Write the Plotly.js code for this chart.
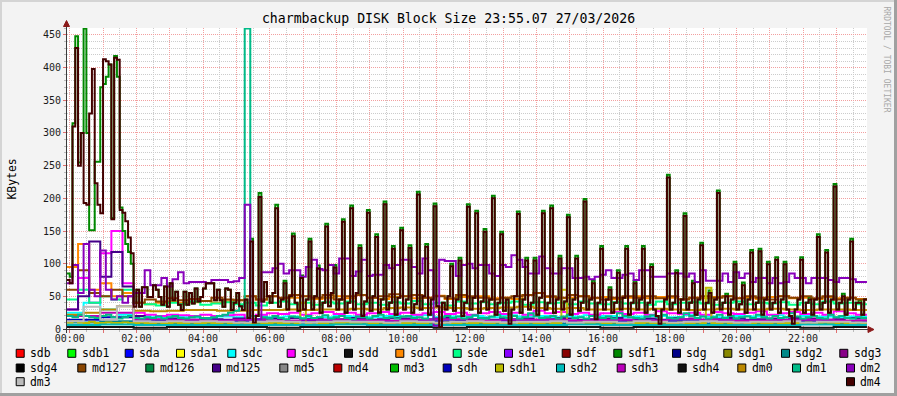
<!DOCTYPE html>
<html><head><meta charset="utf-8">
<script src="https://cdn.plot.ly/plotly-3.0.1.min.js"></script>
<style>html,body{margin:0;padding:0;background:#f3f3f3;}#chart{width:897px;height:396px;}</style>
</head><body><div id="chart"></div>
<script>
// ---------------- DATA ----------------
const seriesNames = ["sdb","sdb1","sda","sda1","sdc","sdc1","sdd","sdd1","sde","sde1","sdf","sdf1","sdg","sdg1","sdg2","sdg3","sdg4","md127","md126","md125","md5","md4","md3","sdh","sdh1","sdh2","sdh3","sdh4","dm0","dm1","dm2","dm3","dm4"];
const seriesColors = ["#FF0000","#00FF00","#0000FF","#FFFF00","#00FFFF","#FF00FF","#111111","#FF8800","#00FF88","#8800FF","#880000","#008800","#000088","#888800","#008888","#880088","#000000","#884400","#008844","#440088","#888888","#BB0000","#00BB00","#0000BB","#BBBB00","#00BBBB","#BB00BB","#111111","#BB8800","#00BB88","#8800BB","#BBBBBB","#440000"];
// sample step (minutes) of each series that is drawn
const stepMinutes = {dm4:5, sdf1:5, dm2:10, dm1:10, sdh1:10, md127:20, sdd1:20, sde:20, sdc1:20, md125:20, dm0:30, sdc:30, dm3:30, sdh2:60, sdg2:60, sdh3:60, sdd:60, sdh:60};

const dm4 = [
75,70,310,430,250,300,193,190,330,398,223,190,177,413,410,405,168,415,412,182,178,165,140,116,
34,60,34,64,64,49,49,67,60,49,37,65,34,70,44,57,37,29,57,37,55,39,62,42,
49,62,70,70,70,44,60,44,34,62,60,29,40,55,35,29,45,17,134,10,20,202,42,72,
50,40,55,185,34,45,70,30,50,142,40,28,78,30,45,134,30,50,93,25,40,157,35,55,
94,30,45,164,25,40,185,30,55,124,20,42,178,28,50,141,25,45,191,30,40,123,22,48,
151,30,45,124,25,38,206,30,50,126,22,45,188,35,3,40,30,50,96,28,45,105,20,40,
187,30,48,177,25,42,149,30,45,200,22,40,145,28,45,8,30,50,176,25,45,105,30,40,
105,22,48,177,30,40,185,25,45,108,30,42,171,22,45,108,28,40,195,30,45,70,15,40,
123,30,45,60,25,40,86,30,48,123,22,40,70,30,45,123,25,40,95,30,20,8,30,45,
232,30,40,86,25,45,173,30,40,70,22,45,128,30,40,55,25,45,208,30,40,50,22,45,
99,30,38,67,25,45,117,30,40,119,22,45,99,30,40,106,25,45,99,30,20,8,30,45,
106,25,40,45,22,45,141,30,40,117,25,45,218,30,40,50,22,45,134,30,40,40,22,45];

const sdf1 = [
85,80,315,448,255,300,460,300,151,151,256,256,370,375,386,405,170,418,386,186,150,130,118,100,
40,60,34,64,64,49,49,67,60,49,37,65,34,70,44,57,37,29,57,37,55,39,62,42,
49,62,70,70,70,44,60,44,34,62,60,29,40,55,35,29,45,17,138,10,20,208,42,72,
50,40,55,190,34,45,74,30,50,146,40,28,82,30,45,138,30,50,97,25,40,161,35,55,
98,30,45,168,25,40,189,30,55,128,20,42,182,28,50,145,25,45,195,30,40,127,22,48,
155,30,45,128,25,38,210,30,50,130,22,45,192,35,3,40,30,50,100,28,45,109,20,40,
191,30,48,181,25,42,153,30,45,204,22,40,149,28,45,8,30,50,180,25,45,109,30,40,
109,22,48,181,30,40,189,25,45,112,30,42,175,22,45,112,28,40,199,30,45,74,15,40,
127,30,45,64,25,40,90,30,48,127,22,40,74,30,45,127,25,40,99,30,20,8,30,45,
236,30,40,90,25,45,177,30,40,74,22,45,132,30,40,59,25,45,212,30,40,54,22,45,
103,30,38,71,25,45,121,30,40,123,22,45,103,30,40,110,25,45,103,30,20,8,30,45,
110,25,40,49,22,45,145,30,40,121,25,45,222,30,40,54,22,45,138,30,40,44,22,45];

const dm2 = [
70,98,55,130,60,50,120,60,45,50,40,50,55,55,90,67,67,78,65,76,87,70,72,72,
72,70,75,75,75,72,73,78,190,12,15,87,87,93,100,85,90,90,80,95,106,92,90,98,
85,108,108,81,88,106,81,83,83,98,93,98,106,106,95,85,108,90,5,106,104,104,81,98,
100,93,98,98,85,81,98,95,113,106,95,85,85,111,93,85,85,93,93,78,78,80,76,80,
83,90,78,78,83,85,75,90,90,80,80,80,85,85,85,80,85,72,90,74,74,74,85,72,
87,78,85,72,78,78,70,78,70,72,85,78,78,70,78,78,78,75,72,78,78,76,72,72];

const dm1 = [
20,18,22,20,18,17,20,22,18,16,18,20,17,16,18,17,19,16,18,20,17,16,18,19,
17,16,18,20,22,25,28,35,460,20,15,18,16,20,17,15,19,18,16,20,17,18,21,16,
18,20,17,15,19,18,16,20,22,17,18,16,19,20,17,18,16,22,5,18,20,17,19,16,
18,21,17,16,19,22,18,17,20,16,18,24,19,17,18,20,16,19,22,17,18,16,20,18,
17,19,16,24,20,18,17,16,19,21,18,22,17,16,18,24,20,17,19,16,18,22,17,20,
16,18,19,17,22,18,16,20,17,18,24,19,16,18,20,17,16,22,18,20,17,16,18,17];

const sdh1 = [
10,12,10,9,11,9,9,10,9,9,10,9,9,10,9,9,10,9,9,10,9,9,10,9,
9,10,9,9,10,9,9,10,9,9,10,9,9,10,9,9,10,9,40,9,10,9,9,10,
9,9,10,9,9,10,9,9,10,9,9,10,9,9,10,9,9,10,9,9,10,9,9,10,
9,9,10,9,9,10,9,9,10,9,9,10,9,9,10,9,9,60,9,9,10,9,9,10,
9,9,10,9,9,10,9,9,10,9,9,10,9,9,10,9,9,10,9,63,9,9,10,9,
9,10,9,9,10,9,9,10,9,9,10,9,9,10,9,9,10,9,9,10,9,9,10,9];

const md127 = [
60,90,55,50,60,50,40,45,42,47,44,46,43,48,45,44,50,45,50,48,52,50,48,52,
45,50,52,48,50,53,50,52,48,50,47,52,50,48,45,48,50,52,55,50,48,52,50,48,
45,48,50,48,50,47,50,45,48,50,48,50,47,50,48,45,50,48,50,47,50,45,48,45];

const sdd1 = [
95,130,60,70,50,55,40,38,40,42,40,41,43,40,42,44,50,45,50,47,48,50,46,48,
50,47,52,48,46,49,50,47,48,51,46,49,48,50,47,48,46,52,55,49,47,48,50,47,
49,46,48,50,47,49,48,46,48,47,49,50,47,48,46,49,50,47,48,46,49,47,48,46];

const sde = [
45,60,40,50,45,60,40,38,36,40,38,42,37,39,41,38,40,36,40,42,38,40,37,41,
39,42,38,40,37,41,39,43,38,40,36,42,39,41,38,40,42,37,41,39,40,38,42,39,
38,41,39,40,37,42,38,40,41,39,37,40,42,38,40,39,41,37,40,38,42,39,40,38];

const sdc1 = [
30,78,40,116,150,70,25,22,20,22,21,20,22,20,21,22,15,22,24,23,25,22,24,26,
23,25,22,24,26,23,25,22,24,26,23,25,22,24,26,23,25,22,28,24,26,23,25,22,
24,26,23,25,22,27,24,23,25,22,26,24,23,25,27,22,24,26,23,25,22,27,24,22];

const md125 = [
30,50,134,80,118,65,20,15,14,16,15,14,16,15,14,16,10,15,16,14,17,15,16,14,
15,17,16,14,15,17,16,14,15,16,17,14,15,16,14,17,15,16,14,15,17,16,14,15,
16,17,14,15,16,14,17,15,16,14,15,17,16,14,15,16,14,17,15,16,14,15,17,16];

const dm0 = [22,25,30,35,28,27,28,29,29,28,28,29,29,30,29,30,30,31,30,32,33,32,33,32,
31,32,33,34,32,31,32,30,30,31,30,31,30,29,30,31,30,30,31,30,29,30,30,29];

const sdc = [25,40,30,22,20,18,19,18,17,19,18,20,18,19,17,18,20,19,18,20,19,21,18,19,
20,18,21,19,20,18,19,21,20,18,19,20,18,21,19,18,20,19,21,18,20,19,18,19];

const dm3 = [12,34,14,35,12,11,12,11,12,11,10,11,12,11,10,11,12,11,11,10,12,11,10,11,
12,11,10,11,11,12,10,11,11,10,12,11,10,11,12,11,10,11,11,12,10,11,11,10];

const sdh2 = [6,7,6,6,6,6,6,6,7,6,6,6,6,6,6,7,6,6,6,6,6,6,7,6];
const sdg2 = [10,12,9,8,8,8,8,9,8,8,8,8,9,8,8,8,8,9,8,8,8,9,8,8];
const sdh3 = [20,25,15,14,13,14,13,14,14,13,14,15,13,14,14,13,14,13,15,14,13,14,14,13];
const sdd  = [3,3,2,3,3,3,2,3,3,3,3,2,3,3,3,3,2,3,3,3,3,3,2,3];
const sdh  = [14,18,12,12,13,12,12,13,12,12,13,12,12,13,12,12,12,13,12,12,13,12,12,12];

const yTickValues = [0,50,100,150,200,250,300,350,400,450];
const xTickLabels = ["00:00","","02:00","","04:00","","06:00","","08:00","","10:00","","12:00","","14:00","","16:00","","18:00","","20:00","","22:00",""];
const titleText = "charmbackup DISK Block Size 23:55.07 27/03/2026";
const yTitle = "KBytes";
const watermark = "RRDTOOL / TOBI OETIKER";

// ---------------- BUILD ----------------
const seriesData = {dm4, sdf1, dm2, dm1, sdh1, md127, sdd1, sde, sdc1, md125, dm0, sdc, dm3, sdh2, sdg2, sdh3, sdd, sdh};
const T0 = Date.UTC(2026, 2, 26, 23, 55, 0);
const RANGE0 = Date.UTC(2026, 2, 26, 23, 55, 7);
const RANGE1 = RANGE0 + 86400000;

const traces = [];
seriesNames.forEach((name, idx) => {
  const vals = seriesData[name];
  if (!vals) return;
  const step = stepMinutes[name] * 60000;
  const x = vals.map((_, i) => T0 + i * step);
  x.push(T0 + vals.length * step);
  const y = vals.concat([vals[vals.length - 1]]);
  traces.push({type:'scatter', mode:'lines', name, x, y,
    line:{color: seriesColors[idx], width: 2, shape:'hv'}, hoverinfo:'skip', showlegend:false});
});

const MONO = 'DejaVu Sans Mono, monospace';
const L = 67, T = 28, W = 800, H = 301;
const PX = p => (p - L) / W;
const PY = p => (T + H - p) / H;

const hourTicks = xTickLabels.map((_, i) => Date.UTC(2026, 2, 27, i, 0, 0));

// legend layout (pixel positions of the boxes)
const legendRows = [
  {cy: 353.3, items: [["sdb",15.7],["sdb1",67.3],["sda",124.7],["sda1",176],["sdc",227.3],["sdc1",286.7],["sdd",344],["sdd1",395.3],["sde",452.7],["sde1",504],["sdf",561.7],["sdf1",613.3],["sdg",672],["sdg1",723.3],["sdg2",781],["sdg3",839.3]]},
  {cy: 368, items: [["sdg4",15.7],["md127",77.3],["md126",145.3],["md125",212],["md5",279.3],["md4",333.3],["md3",390],["sdh",442.7],["sdh1",495],["sdh2",556],["sdh3",616.7],["sdh4",677.7],["dm0",737.3],["dm1",792],["dm2",846]]},
  {cy: 381.7, items: [["dm3",15.7],["dm4",846]]}
];

const shapes = [];
const annotations = [];
legendRows.forEach(row => {
  row.items.forEach(([name, bx]) => {
    const col = seriesColors[seriesNames.indexOf(name)];
    shapes.push({type:'rect', xref:'paper', yref:'paper', layer:'above',
      x0: PX(bx + 0.5), x1: PX(bx + 8.5), y0: PY(row.cy + 4), y1: PY(row.cy - 4),
      fillcolor: col, line:{color:'#000000', width:1}});
    annotations.push({text: name, xref:'paper', yref:'paper', x: PX(bx + 12.2), y: PY(row.cy),
      xanchor:'left', yanchor:'middle', showarrow:false,
      font:{family: MONO, size: 11.4, color:'#000000'}});
  });
});

// frame
shapes.push({type:'rect', xref:'paper', yref:'paper', layer:'above', x0:PX(0), x1:PX(897), y0:PY(2), y1:PY(0), fillcolor:'#D4D4D4', line:{width:0}});
shapes.push({type:'rect', xref:'paper', yref:'paper', layer:'above', x0:PX(0), x1:PX(2), y0:PY(396), y1:PY(0), fillcolor:'#D4D4D4', line:{width:0}});
shapes.push({type:'rect', xref:'paper', yref:'paper', layer:'above', x0:PX(0), x1:PX(897), y0:PY(396), y1:PY(393), fillcolor:'#A0A0A0', line:{width:0}});
shapes.push({type:'rect', xref:'paper', yref:'paper', layer:'above', x0:PX(894), x1:PX(897), y0:PY(396), y1:PY(0), fillcolor:'#A0A0A0', line:{width:0}});

// axes lines + arrows
shapes.push({type:'line', xref:'paper', yref:'paper', layer:'above', x0:PX(63), x1:PX(869), y0:PY(329.5), y1:PY(329.5), line:{color:'#3a3a3a', width:1}});
shapes.push({type:'line', xref:'paper', yref:'paper', layer:'above', x0:PX(66.5), x1:PX(66.5), y0:PY(333), y1:PY(25), line:{color:'#3a3a3a', width:1}});
shapes.push({type:'path', xref:'paper', yref:'paper', layer:'above',
  path:`M ${PX(868)} ${PY(326.5)} L ${PX(874)} ${PY(329.5)} L ${PX(868)} ${PY(332.5)} Z`, fillcolor:'#8B1A1A', line:{color:'#8B1A1A', width:1}});
shapes.push({type:'path', xref:'paper', yref:'paper', layer:'above',
  path:`M ${PX(63.5)} ${PY(26.5)} L ${PX(66.5)} ${PY(20.5)} L ${PX(69.5)} ${PY(26.5)} Z`, fillcolor:'#8B1A1A', line:{color:'#8B1A1A', width:1}});

annotations.push({text: yTitle, xref:'paper', yref:'paper', x: PX(11), y: PY(178.5), textangle:-90,
  showarrow:false, xanchor:'center', yanchor:'middle', font:{family: MONO, size: 11.4, color:'#000'}});
annotations.push({text: watermark, xref:'paper', yref:'paper', x: PX(886.5), y: PY(59), textangle:90,
  showarrow:false, xanchor:'center', yanchor:'middle', font:{family: MONO, size: 8, color:'#A8A8A8'}});

const layout = {
  width: 897, height: 396,
  margin: {l: L, r: 897 - L - W, t: T, b: 396 - T - H, pad: 0},
  paper_bgcolor: '#F3F3F3', plot_bgcolor: '#FFFFFF',
  showlegend: false,
  title: {text: titleText, font:{family: MONO, size: 13.2, color:'#000'},
    x: 0.5, xref:'container', xanchor:'center', y: 1 - 18.5/396, yref:'container', yanchor:'middle'},
  xaxis: {type:'date', range:[RANGE0, RANGE1], fixedrange:true,
    tickmode:'array', tickvals: hourTicks, ticktext: xTickLabels,
    showgrid:true, gridcolor:'#F2A0A0', griddash:'1px,1px', gridwidth:1,
    ticks:'outside', ticklen:3, tickcolor:'#E07070', tickwidth:1, ticklabelstandoff:-3,
    tickfont:{family: MONO, size: 10, color:'#1a1a1a'},
    minor:{tickmode:'linear', tick0:'2026-03-27 00:30', dtick: 3600000, showgrid:true,
      gridcolor:'#CCCCCC', griddash:'1px,1px', ticks:'outside', ticklen:2, tickcolor:'#BBBBBB'},
    zeroline:false, showline:false, automargin:false},
  yaxis: {range:[0, 460.7], fixedrange:true,
    tickmode:'array', tickvals: yTickValues, ticktext: yTickValues.map(String),
    showgrid:true, gridcolor:'#F2A0A0', griddash:'1px,1px', gridwidth:1,
    ticks:'outside', ticklen:3, tickcolor:'#E07070', tickwidth:1,
    tickfont:{family: MONO, size: 10, color:'#1a1a1a'},
    minor:{tickmode:'linear', tick0: 0, dtick: 10, showgrid:true,
      gridcolor:'#CCCCCC', griddash:'1px,1px', ticks:'outside', ticklen:2, tickcolor:'#BBBBBB'},
    zeroline:false, showline:false, automargin:false},
  shapes, annotations
};

Plotly.newPlot('chart', traces, layout, {staticPlot:true, displayModeBar:false});
</script></body></html>
